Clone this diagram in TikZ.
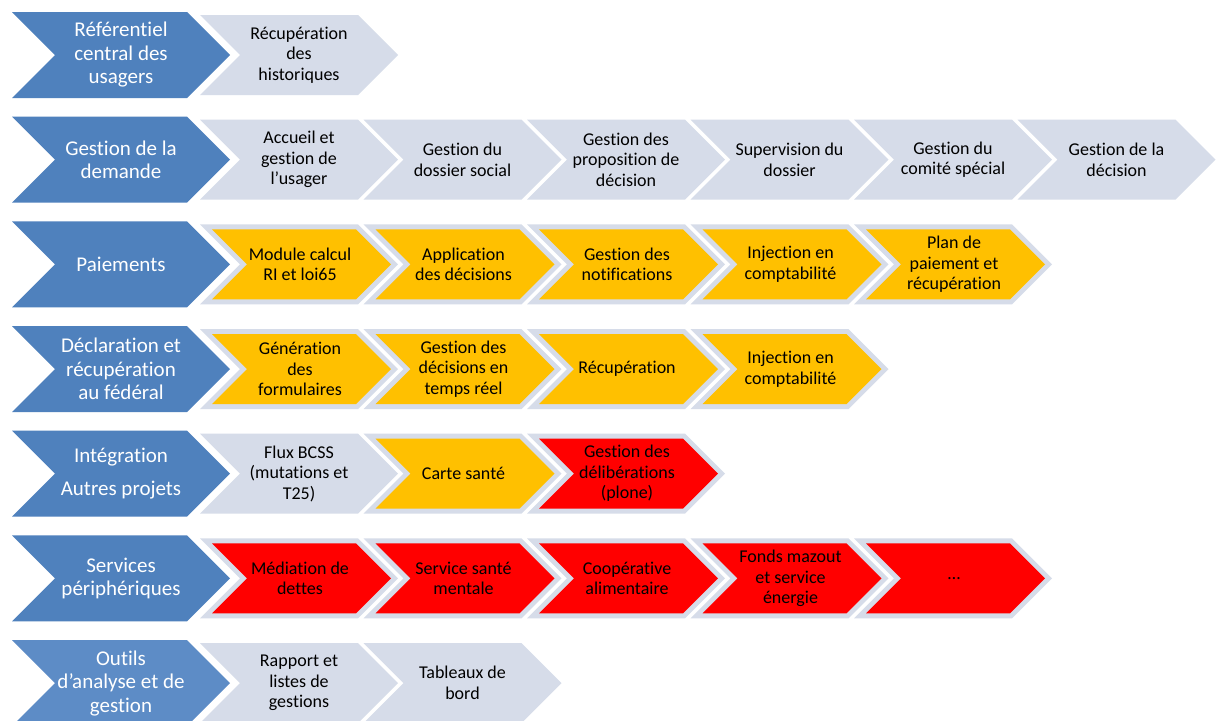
\documentclass[tikz,border=0pt]{standalone}
\usepackage{fontspec}
\setmainfont{Carlito}[Ligatures={NoCommon}]
\definecolor{chblue}{HTML}{4F81BD}
\definecolor{chbluedot}{HTML}{5D8CC6}
\definecolor{chgrey}{RGB}{214,220,233}
\definecolor{chyellow}{HTML}{FFC000}
\definecolor{chred}{HTML}{FF0000}
\newcommand\chevshape[5]{%
  \fill[#1] (#2,#3-#5) -- (#2+#4-#5,#3-#5) -- (#2+#4,#3) -- (#2+#4-#5,#3+#5) -- (#2,#3+#5) -- (#2+#5,#3) -- cycle;}
% blue head chevron: #1 row, #2 fill, #3 name, #4 text
\newcommand\bchev[4]{%
  \pgfmathsetmacro\gy{55+104.67*#1}%
  \chevshape{#2}{12}{\gy}{218}{43}%
  \node[btext] (#3) at (121,\gy) {#4};}
% plain grey chevron: #1 col, #2 row, #3 name, #4 text
\newcommand\gchev[4]{%
  \pgfmathsetmacro\gx{200+163.5*#1}%
  \pgfmathsetmacro\gy{55+104.67*#2}%
  \chevshape{chgrey}{\gx}{\gy}{198}{40}%
  \node[gtext] (#3) at (\gx+99,\gy) {#4};}
% coloured chevron with grey rim: #1 col, #2 row, #3 colour, #4 name, #5 text
\newcommand\cchev[5]{%
  \pgfmathsetmacro\gx{200+163.5*#1}%
  \pgfmathsetmacro\gy{55+104.67*#2}%
  \chevshape{chgrey}{\gx}{\gy}{198}{40}%
  \chevshape{#3}{\gx+12}{\gy}{179}{35}%
  \node[gtext] (#4) at (\gx+100,\gy) {#5};}
\tikzset{
  btext/.style={align=center, text=white, font=\fontsize{21}{23.5}\selectfont, inner sep=0pt},
  gtext/.style={align=center, text=black, font=\fontsize{18}{20.5}\selectfont, inner sep=0pt}
}
\begin{document}
\begin{tikzpicture}[x=1pt,y=-1pt]
\useasboundingbox (0,0) rectangle (1223,720);
\clip (0,0) rectangle (1223,720);
\fill[white] (0,0) rectangle (1223,720);
% row 1
\bchev{0}{chblue}{b1}{Référentiel\\central des\\usagers}
\gchev{0}{0}{r1a}{Récupération\\des\\historiques}
% row 2
\bchev{1}{chblue}{b2}{Gestion de la\\demande}
\gchev{0}{1}{r2a}{Accueil et\\gestion de\\l’usager}
\gchev{1}{1}{r2b}{Gestion du\\dossier social}
\gchev{2}{1}{r2c}{Gestion des\\proposition de\\décision}
\gchev{3}{1}{r2d}{Supervision du\\dossier}
\gchev{4}{1}{r2e}{Gestion du\\comité spécial}
\gchev{5}{1}{r2f}{Gestion de la\\décision}
% row 3
\bchev{2}{chblue}{b3}{Paiements}
\cchev{0}{2}{chyellow}{r3a}{Module calcul\\RI et loi65}
\cchev{1}{2}{chyellow}{r3b}{Application\\des décisions}
\cchev{2}{2}{chyellow}{r3c}{Gestion des\\notifications}
\cchev{3}{2}{chyellow}{r3d}{Injection en\\comptabilité}
\cchev{4}{2}{chyellow}{r3e}{Plan de\\paiement et\\récupération}
% row 4
\bchev{3}{chblue}{b4}{Déclaration et\\récupération\\au fédéral}
\cchev{0}{3}{chyellow}{r4a}{Génération\\des\\formulaires}
\cchev{1}{3}{chyellow}{r4b}{Gestion des\\décisions en\\temps réel}
\cchev{2}{3}{chyellow}{r4c}{Récupération}
\cchev{3}{3}{chyellow}{r4d}{Injection en\\comptabilité}
% row 5
\bchev{4}{chblue}{b5}{Intégration\\[9.5pt]Autres projets}
\gchev{0}{4}{r5a}{Flux BCSS\\(mutations et\\T25)}
\cchev{1}{4}{chyellow}{r5b}{Carte santé}
\cchev{2}{4}{chred}{r5c}{Gestion des\\délibérations\\(plone)}
% row 6
\bchev{5}{chblue}{b6}{Services\\périphériques}
\cchev{0}{5}{chred}{r6a}{Médiation de\\dettes}
\cchev{1}{5}{chred}{r6b}{Service santé\\mentale}
\cchev{2}{5}{chred}{r6c}{Coopérative\\alimentaire}
\cchev{3}{5}{chred}{r6d}{Fonds mazout\\et service\\énergie}
\cchev{4}{5}{chred}{r6e}{…}
% row 7
\bchev{6}{chbluedot}{b7}{Outils\\d’analyse et de\\gestion}
\gchev{0}{6}{r7a}{Rapport et\\listes de\\gestions}
\gchev{1}{6}{r7b}{Tableaux de\\bord}
\end{tikzpicture}
\end{document}
